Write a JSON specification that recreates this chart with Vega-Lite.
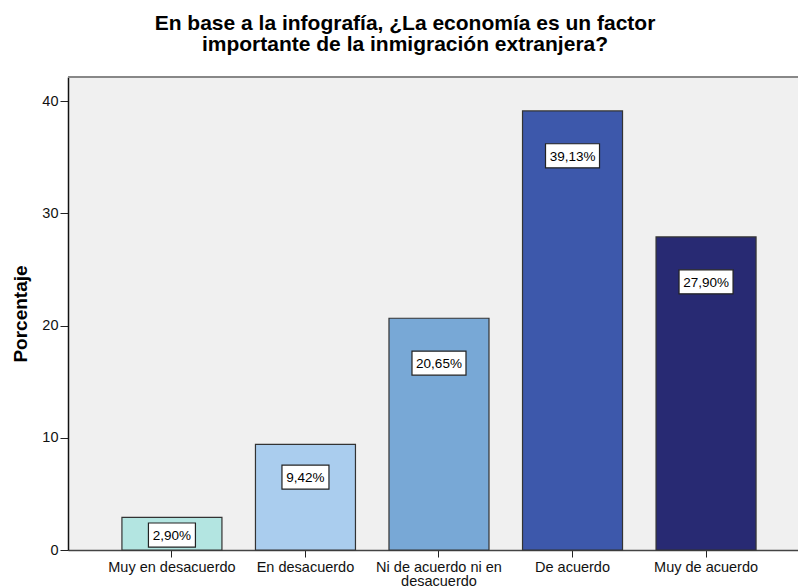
{
  "$schema": "https://vega.github.io/schema/vega-lite/v6.json",
  "width": 730,
  "height": 473,
  "autosize": {"type": "none"},
  "padding": {"left": 68, "top": 77, "right": 0, "bottom": 38},
  "background": "white",
  "config": {
    "font": "Liberation Sans",
    "view": {"fill": "#f0f0f0", "stroke": null}
  },
  "title": {
    "text": ["En base a la infografía, ¿La economía es un factor", "importante de la inmigración extranjera?"],
    "fontSize": 21,
    "fontWeight": "bold",
    "font": "Liberation Sans",
    "color": "#000000",
    "lineHeight": 21,
    "anchor": "middle",
    "dx": -28,
    "offset": 21
  },
  "data": {
    "values": [
      {"categoria": "Muy en desacuerdo", "porcentaje": 2.90, "etiqueta": "2,90%"},
      {"categoria": "En desacuerdo", "porcentaje": 9.42, "etiqueta": "9,42%"},
      {"categoria": "Ni de acuerdo ni en desacuerdo", "porcentaje": 20.65, "etiqueta": "20,65%"},
      {"categoria": "De acuerdo", "porcentaje": 39.13, "etiqueta": "39,13%"},
      {"categoria": "Muy de acuerdo", "porcentaje": 27.90, "etiqueta": "27,90%"}
    ]
  },
  "transform": [
    {"calculate": "datum.porcentaje < 5 ? datum.porcentaje * 0.46 : datum.porcentaje - min(4, datum.porcentaje * 0.31)", "as": "pos"},
    {"calculate": "datum.pos - 1.07", "as": "lo"},
    {"calculate": "datum.pos + 1.07", "as": "hi"}
  ],
  "encoding": {
    "x": {
      "field": "categoria",
      "type": "nominal",
      "sort": ["Muy en desacuerdo", "En desacuerdo", "Ni de acuerdo ni en desacuerdo", "De acuerdo", "Muy de acuerdo"],
      "scale": {"paddingInner": 0.251, "paddingOuter": 0.359, "align": 0.5625},
      "axis": {
        "title": null,
        "labelAngle": 0,
        "labelFontSize": 14.5,
        "labelColor": "#111111",
        "labelPadding": 3,
        "labelLimit": 300,
        "labelLineHeight": 14,
        "labelExpr": "datum.label == 'Ni de acuerdo ni en desacuerdo' ? ['Ni de acuerdo ni en', 'desacuerdo'] : datum.label",
        "tickSize": 7,
        "tickColor": "#222222",
        "domainColor": "#444444",
        "domainWidth": 1.5,
        "grid": false
      }
    }
  },
  "layer": [
    {
      "mark": {"type": "rule", "color": "#888888", "strokeWidth": 2},
      "encoding": {"x": null, "y": {"datum": 42.15, "type": "quantitative"}}
    },
    {
      "mark": {"type": "bar", "width": {"band": 1}, "stroke": "#333333", "strokeWidth": 1.2},
      "encoding": {
        "y": {
          "field": "porcentaje",
          "type": "quantitative",
          "scale": {"domain": [0, 42.15], "nice": false},
          "axis": {
            "title": "Porcentaje",
            "titleFontSize": 19,
            "titleFontWeight": "bold",
            "titleColor": "#000000",
            "titlePadding": 11,
            "values": [0, 10, 20, 30, 40],
            "labelFontSize": 14.5,
            "labelColor": "#111111",
            "labelPadding": 2,
            "tickSize": 8,
            "tickColor": "#222222",
            "domainColor": "#111111",
            "domainWidth": 1.5,
            "grid": false
          }
        },
        "color": {
          "field": "categoria",
          "type": "nominal",
          "scale": {
            "domain": ["Muy en desacuerdo", "En desacuerdo", "Ni de acuerdo ni en desacuerdo", "De acuerdo", "Muy de acuerdo"],
            "range": ["#b3e5e1", "#aacdee", "#78a8d6", "#3d58ab", "#282a73"]
          },
          "legend": null
        }
      }
    },
    {
      "transform": [{"filter": "length(datum.etiqueta) == 6"}],
      "mark": {"type": "bar", "width": 54, "fill": "white", "stroke": "#222222", "strokeWidth": 1.2},
      "encoding": {
        "y": {"field": "lo", "type": "quantitative"},
        "y2": {"field": "hi"}
      }
    },
    {
      "transform": [{"filter": "length(datum.etiqueta) == 5"}],
      "mark": {"type": "bar", "width": 47, "fill": "white", "stroke": "#222222", "strokeWidth": 1.2},
      "encoding": {
        "y": {"field": "lo", "type": "quantitative"},
        "y2": {"field": "hi"}
      }
    },
    {
      "mark": {"type": "text", "fontSize": 13.5, "color": "#000000", "baseline": "middle", "align": "center", "dy": 1},
      "encoding": {
        "y": {"field": "pos", "type": "quantitative"},
        "text": {"field": "etiqueta"}
      }
    }
  ]
}
